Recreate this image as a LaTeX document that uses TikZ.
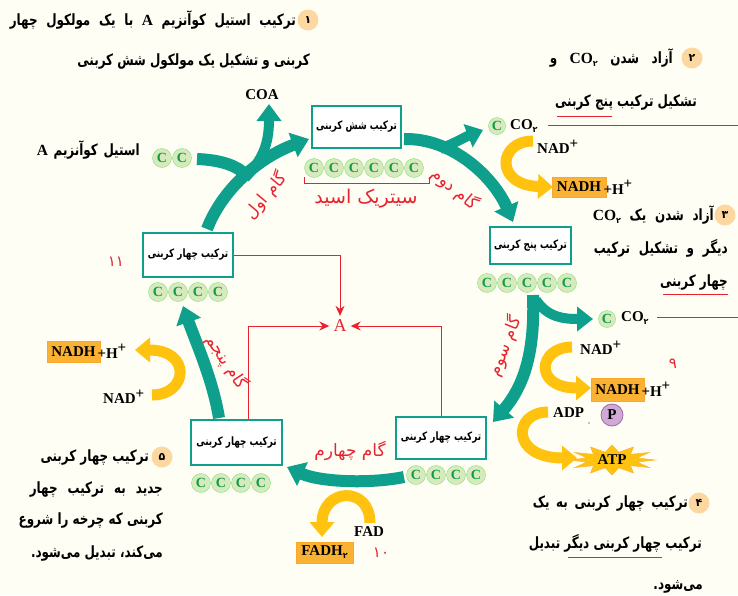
\documentclass[tikz,border=0pt]{standalone}
\usepackage{fontspec}
\setmainfont{Liberation Serif}
\newfontfamily\lat{Liberation Serif}
\newfontfamily\fa[Script=Arabic]{DejaVu Sans}
\newfontfamily\fan[Script=Arabic,FakeStretch=0.77]{DejaVu Sans}
\TeXXeTstate=1
\usetikzlibrary{arrows.meta,calc}
\newcommand\COt{\hbox{\beginL\lat\bfseries CO\raisebox{-3pt}{\fa\bfseries\fontsize{8}{8}\selectfont ۲}\endL}}
\definecolor{tealc}{HTML}{0FA08D}
\definecolor{goldc}{HTML}{FFC20E}
\definecolor{orngc}{HTML}{F9B234}
\definecolor{cfillc}{HTML}{D7EABD}
\definecolor{cgreenc}{HTML}{149B48}
\definecolor{redc}{HTML}{E8232F}
\definecolor{badgec}{HTML}{FCD8A0}
\definecolor{bgc}{HTML}{FEFEF5}
\definecolor{pfillc}{HTML}{D2A8D6}
\definecolor{pedgec}{HTML}{9C6AA3}
\begin{document}
\begin{tikzpicture}[x=1pt,y=-1pt,
  cbox/.style={draw=tealc, line width=1.6pt, fill=white, inner sep=0pt, font=\fan\bfseries\fontsize{11.5}{12}\selectfont},
  ccirc/.style={circle, fill=cfillc, draw=cfillc!85!black!60!green, line width=0.3pt, minimum size=19pt, inner sep=0pt, text=cgreenc, font=\lat\bfseries\fontsize{14}{14}\selectfont},
  tarr/.style={draw=tealc, line width=12pt, -{Triangle[width=25pt,length=17pt]}},
  tband/.style={draw=tealc, line width=12pt},
  yarr/.style={draw=goldc, line width=11pt, -{Triangle[width=24pt,length=15pt]}},
  redl/.style={draw=redc, line width=0.9pt},
  redarr/.style={draw=redc, line width=0.9pt, -{Stealth[length=10pt,width=9pt]}},
  fatxt/.style={font=\fan\bfseries\fontsize{15.5}{17}\selectfont, inner sep=0pt},
  redlbl/.style={text=redc, font=\fa\fontsize{17}{17}\selectfont, inner sep=0pt},
  rednum/.style={text=redc, font=\fa\fontsize{15}{15}\selectfont, inner sep=0pt},
  badgest/.style={circle, fill=badgec, minimum size=21pt, inner sep=0pt, font=\fa\bfseries\fontsize{11}{11}\selectfont},
  latb/.style={font=\lat\bfseries\fontsize{15}{15}\selectfont, inner sep=0pt},
  nadhst/.style={fill=orngc, draw=orngc!80!orange, line width=0.6pt, inner sep=1.5pt, minimum height=20pt, font=\lat\bfseries\fontsize{15}{15}\selectfont}
]
\fill[bgc] (0,0) rectangle (738,595);
\useasboundingbox (0,0) rectangle (738,595);

% ---------- boxes ----------
\node[cbox, minimum width=89pt, minimum height=42pt] (b6) at (356.5,127) {\beginR ترکیب شش کربنی\endR};
\node[cbox, minimum width=81pt, minimum height=37pt] (b5) at (530.5,245.5) {\beginR ترکیب پنج کربنی\endR};
\node[cbox, minimum width=90pt, minimum height=44pt] (b4t) at (188,255) {\beginR ترکیب چهار کربنی\endR};
\node[cbox, minimum width=90pt, minimum height=42pt] (b4r) at (441,438) {\beginR ترکیب چهار کربنی\endR};
\node[cbox, minimum width=91pt, minimum height=45pt] (b4l) at (236.5,442.5) {\beginR ترکیب چهار کربنی\endR};

% ---------- carbon circles ----------
\foreach \i in {0,...,5} \node[ccirc] (s\i) at (314+20*\i,168) {C};
\foreach \i in {0,...,4} \node[ccirc] (f\i) at (487+20*\i,283) {C};
\foreach \i in {0,...,3} \node[ccirc] (t\i) at (158+20*\i,292) {C};
\foreach \i in {0,...,3} \node[ccirc] (l\i) at (201+20*\i,483) {C};
\foreach \i in {0,...,3} \node[ccirc] (r\i) at (416+20*\i,475) {C};
\node[ccirc] (a0) at (162,158) {C};
\node[ccirc] (a1) at (182,158) {C};
\node[ccirc, minimum size=17pt] (co1c) at (497,126) {C};
\node[ccirc, minimum size=17pt] (co2c) at (607,319) {C};

% citric acid bracket
\draw[redl] (304,177) -- (304,183) -- (429,183) -- (429,177);
\node[redlbl, font=\fa\fontsize{19}{19}\selectfont] (cit) at (366,199) {\beginR سیتریک اسید\endR};

% ---------- teal arrows ----------
% step 1
\draw[tband] (197,159) .. controls (222,160) and (238,166) .. (247,176);
\draw[tealc, line width=10pt, -{Triangle[width=24pt,length=17pt]}] (245,178) .. controls (262,160) and (269,145) .. (269,104);
\draw[tarr] (207,229) .. controls (222,190) and (258,158) .. (309,139);
% step 2
\draw[tealc, line width=10pt, -{Triangle[width=24pt,length=16pt]}] (440,149) .. controls (455,143) and (465,137) .. (483,130);
\draw[tarr] (404,139) .. controls (455,138) and (495,180) .. (513,222);
% step 3
\draw[tealc, line width=10pt, -{Triangle[width=24pt,length=16pt]}] (536,300) .. controls (548,318) and (565,319) .. (593,319);
\draw[tarr] (533,295) .. controls (535,350) and (525,385) .. (493,422);
% step 4
\draw[tarr] (404,477) .. controls (370,484) and (320,482) .. (287,467);
% step 5
\draw[tarr] (219,418) .. controls (213,380) and (195,340) .. (183,306);

% ---------- step labels ----------
\node[redlbl, rotate=50] (g1) at (266,196) {\beginR گام اول\endR};
\node[redlbl, rotate=-40] (g2) at (455,189) {\beginR گام دوم\endR};
\node[redlbl, rotate=68] (g3) at (505,346) {\beginR گام سوم\endR};
\node[redlbl] (g4) at (350,451) {\beginR گام چهارم\endR};
\node[redlbl, rotate=-57] (g5) at (227,362) {\beginR گام پنجم\endR};

% ---------- A and red connectors ----------
\node[text=redc, font=\lat\fontsize{18}{18}\selectfont, inner sep=4pt] (A) at (340,326) {A};
\draw[redarr] (b4t.east) -| (A.north);
\draw[redarr] (248,420 |- b4l.north) |- (A.west);
\draw[redarr] (b4r.north) |- (A.east);

% ---------- latin labels ----------
\node[latb] (coa) at (262,95) {COA};
\node[fatxt, anchor=east] (acet) at (140,150) {\hbox to 103pt{\beginR استیل کوآنزیم \hbox{\lat\bfseries A}\endR}};

% CO2 top + NAD
\node[latb, anchor=west] (co1) at (510,126) {\COt};
\draw[redl] (548,125) -- (738,125);
\node[latb, anchor=west] (nad1) at (537,147) {NAD\raisebox{5pt}{+}};
\node[nadhst, minimum width=54pt] (nadh1) at (579,187) {NADH};
\node[latb, anchor=west] (hp1) at ([xshift=-3pt]nadh1.east) {+H\raisebox{6pt}{+}};
\draw[yarr] (533,141) .. controls (498,141) and (494,185) .. (553,187);

% CO2 second + NAD
\node[latb, anchor=west] (co2) at (621,318) {\COt};
\draw[redl] (657,317) -- (738,317);
\node[latb, anchor=west] (nad2) at (580,348) {NAD\raisebox{5pt}{+}};
\node[nadhst, minimum width=53pt, minimum height=23pt] (nadh2) at (617.5,389.5) {NADH};
\node[latb, anchor=west] (hp2) at ([xshift=-3pt]nadh2.east) {+H\raisebox{6pt}{+}};
\node[rednum] (n9) at (673,364) {۹};
\draw[yarr] (572,347) .. controls (538,347) and (533,388) .. (591,388);

% ADP, P, ATP
\node[latb, anchor=west] (adp) at (553,413) {ADP};
\fill[black] (589,423) circle (0.7);
\node[circle, fill=pfillc, draw=pedgec, line width=0.8pt, minimum size=22pt, inner sep=0pt, font=\lat\bfseries\fontsize{15}{15}\selectfont] (P) at (612,415) {P};
\fill[goldc, draw=orngc, line width=0.5pt] plot[variable=\t, samples=25, domain=0:360] ({612+(43-17*mod(round(\t/15),2))*cos(\t)}, {460+(15-7*mod(round(\t/15),2))*sin(\t)}) -- cycle;
\node[latb] (atp) at (612,460) {ATP};
\draw[yarr] (548,412) .. controls (513,412) and (510,458) .. (577,458);

% left NADH
\node[nadhst, minimum width=53pt, minimum height=21pt] (nadh3) at (73.5,351.5) {NADH};
\node[latb, anchor=west] (hp3) at ([xshift=-3pt]nadh3.east) {+H\raisebox{6pt}{+}};
\node[latb, anchor=west] (nad3) at (103,397) {NAD\raisebox{5pt}{+}};
\draw[yarr] (152,395) .. controls (188,395) and (192,350) .. (135,350);

% FAD
\node[latb, anchor=west] (fad) at (354,532) {FAD};
\node[nadhst, minimum width=57pt, minimum height=21pt] (fadh) at (324.5,552.5) {FADH\raisebox{-3pt}{\fa\bfseries\fontsize{8}{8}\selectfont ۲}};
\node[rednum] (n10) at (381,553) {۱۰};
\draw[yarr] (370,523) .. controls (370,485) and (322,488) .. (322,537);

\node[rednum] (n11) at (116,262) {۱۱};

% ---------- texts ----------
% 1
\node[badgest] (k1) at (308,20) {۱};
\node[fatxt, anchor=east] (t1a) at (296,20) {\hbox to 286pt{\beginR ترکیب استیل کوآنزیم \hbox{\lat\bfseries A} با یک مولکول چهار\endR}};
\node[fatxt, anchor=east] (t1b) at (310,62) {\beginR کربنی و تشکیل یک مولکول شش کربنی\endR};
% 2
\node[badgest] (k2) at (692,58) {۲};
\node[fatxt, anchor=east] (t2a) at (673,58) {\hbox to 123pt{\beginR آزاد شدن \COt\ و\endR}};
\node[fatxt, anchor=east] (t2b) at (697,102) {\beginR تشکیل ترکیب پنج کربنی\endR};
\draw[redl] (557,116) -- (612,116);
% 3
\node[badgest] (k3) at (725,215) {۳};
\node[fatxt, anchor=east] (t3a) at (714,215) {\hbox to 121pt{\beginR آزاد شدن یک \COt\endR}};
\node[fatxt, anchor=east] (t3b) at (728,248) {\hbox to 134pt{\beginR دیگر و تشکیل ترکیب\endR}};
\node[fatxt, anchor=east] (t3c) at (728,282) {\beginR چهار کربنی\endR};
\draw[redl] (663,294) -- (728,294);
% 4
\node[badgest] (k4) at (699,503) {۴};
\node[fatxt, anchor=east] (t4a) at (688,503) {\hbox to 155pt{\beginR ترکیب چهار کربنی به یک\endR}};
\node[fatxt, anchor=east] (t4b) at (702,543) {\beginR ترکیب چهار کربنی دیگر تبدیل\endR};
\draw[redl] (568,557) -- (662,557);
\node[fatxt, anchor=east] (t4c) at (703,587) {\beginR می‌شود.\endR};
% 5
\node[badgest] (k5) at (162,457) {۵};
\node[fatxt, anchor=east] (t5a) at (149,457) {\beginR ترکیب چهار کربنی\endR};
\node[fatxt, anchor=east] (t5b) at (163,489) {\hbox to 133pt{\beginR جدید به ترکیب چهار\endR}};
\node[fatxt, anchor=east] (t5c) at (163,520) {\beginR کربنی که چرخه را شروع\endR};
\node[fatxt, anchor=east] (t5d) at (163,553) {\beginR می‌کند، تبدیل می‌شود.\endR};
\end{tikzpicture}
\end{document}
